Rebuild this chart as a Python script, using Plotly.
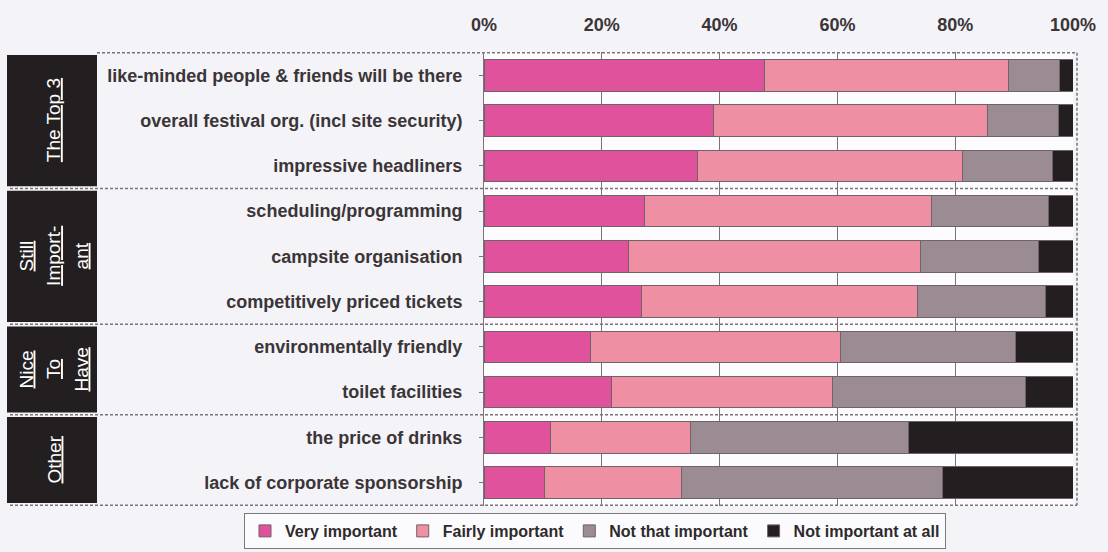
import plotly.graph_objects as go

categories = [
    "like-minded people & friends will be there",
    "overall festival org. (incl site security)",
    "impressive headliners",
    "scheduling/programming",
    "campsite organisation",
    "competitively priced tickets",
    "environmentally friendly",
    "toilet facilities",
    "the price of drinks",
    "lack of corporate sponsorship",
]
very_important = [47.7, 38.9, 36.3, 27.3, 24.6, 26.8, 18.0, 21.6, 11.3, 10.2]
fairly_important = [41.3, 46.5, 45.0, 48.7, 49.5, 46.8, 42.6, 37.6, 23.8, 23.3]
not_that_important = [8.7, 12.1, 15.3, 19.9, 20.0, 21.7, 29.6, 32.7, 36.9, 44.3]
not_important_at_all = [2.3, 2.5, 3.4, 4.1, 5.9, 4.7, 9.8, 8.1, 28.0, 22.2]

series_names = ["Very important", "Fairly important", "Not that important", "Not important at all"]
series_values = [very_important, fairly_important, not_that_important, not_important_at_all]
series_colors = ["#e0529b", "#ee8fa4", "#9b8b93", "#231f21"]

group_lines = [["The Top 3"], ["Still", "Import-", "ant"], ["Nice", "To", "Have"], ["Other"]]
group_sizes = [3, 3, 2, 2]

tick_vals = [0, 20, 40, 60, 80, 100]
tick_text = ["0%", "20%", "40%", "60%", "80%", "100%"]

fig = go.Figure()
for name, vals, col in zip(series_names, series_values, series_colors):
    fig.add_trace(go.Bar(
        y=categories, x=vals, name=name, orientation="h",
        marker=dict(color=col, line=dict(color="#6f6268", width=1)),
    ))

W, H = 1108, 552
left, right, top, bottom = 484, 1073, 52, 506
PW = right - left
FONT = "Liberation Sans, Arial, sans-serif"
GRID = "#7d7278"
TXT = "#3b3537"

shapes = []
annotations = []
box_x0 = (7 - left) / PW
box_x1 = (97 - left) / PW
line_x0 = (10 - left) / PW
line_x1 = (1077 - left) / PW
line_step = 27.5 / PW
label_cx = (41 - left) / PW  # compensates rotated-annotation offset

start = 0
boundaries = [-0.5]
for lines, n in zip(group_lines, group_sizes):
    y0 = start - 0.5
    y1 = start + n - 0.5
    boundaries.append(y1)
    shapes.append(dict(type="rect", xref="paper", yref="y", x0=box_x0, x1=box_x1,
                       y0=y0 + 0.05, y1=y1 - 0.05, fillcolor="#231f21",
                       line=dict(width=0), layer="above"))
    k = len(lines)
    for i, ln in enumerate(lines):
        annotations.append(dict(xref="paper", yref="y",
                                x=label_cx + (i - (k - 1) / 2) * line_step,
                                y=(y0 + y1) / 2, text="<u>" + ln + "</u>",
                                textangle=-90, showarrow=False,
                                font=dict(family=FONT, size=19, color="white")))
    start += n

for b in boundaries:
    shapes.append(dict(type="line", xref="paper", yref="y",
                       x0=box_x1 if b == -0.5 else line_x0,
                       x1=line_x1, y0=b, y1=b,
                       line=dict(color=GRID, width=1.5, dash="3px,2px"), layer="above"))
shapes.append(dict(type="line", xref="paper", yref="y", x0=line_x1, x1=line_x1,
                   y0=-0.5, y1=9.5, line=dict(color=GRID, width=1.5, dash="3px,2px"),
                   layer="above"))

fig.update_layout(
    barmode="stack",
    bargap=0.3,
    width=W, height=H,
    margin=dict(l=left, r=W - right, t=top, b=H - bottom, pad=0, autoexpand=False),
    paper_bgcolor="#f3f3f8",
    plot_bgcolor="#fcfcfe",
    font=dict(family=FONT, size=15, color=TXT),
    shapes=shapes,
    annotations=annotations,
    legend=dict(orientation="h", xref="paper", yref="paper",
                x=(244 - left) / PW, xanchor="left",
                y=-(549 - bottom) / (bottom - top), yanchor="bottom",
                bgcolor="#fbfbfd", bordercolor="#7a7a7a", borderwidth=1,
                font=dict(family=FONT, size=16, color="#2e2a2c", weight="bold"),
                itemwidth=30, traceorder="normal"),
    xaxis=dict(range=[0, 100], side="top", tickvals=tick_vals, ticktext=tick_text,
               showgrid=True, gridcolor=GRID, gridwidth=1, zeroline=False,
               ticks="", ticklabelstandoff=16,
               tickfont=dict(family=FONT, size=18, color=TXT, weight="bold")),
    yaxis=dict(categoryorder="array", categoryarray=categories, autorange="reversed",
               showline=True, linecolor=GRID, linewidth=1, ticks="outside", ticklen=4,
               tickcolor=GRID, ticklabelstandoff=13,
               tickfont=dict(family=FONT, size=18, color=TXT, weight="bold")),
)

fig.write_html("out.html")
